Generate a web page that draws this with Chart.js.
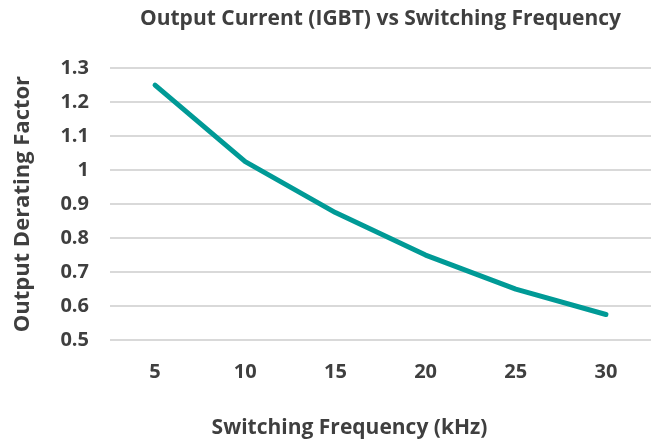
<!DOCTYPE html>
<html>
<head>
<meta charset="utf-8">
<script src="https://cdn.jsdelivr.net/npm/chart.js@4"></script>
<style>
  html, body { margin: 0; padding: 0; background: #fff; }
  #wrap { width: 660px; height: 444px; }
</style>
</head>
<body>
<div id="wrap"><canvas id="myChart" width="660" height="444"></canvas></div>
<script>
// switching frequency (kHz) and derating factor
const frequencies = ["5", "10", "15", "20", "25", "30"];
const deratingFactor = [1.25, 1.025, 0.875, 0.75, 0.65, 0.575];

const textColor = "#3f3f3f";
const fontFamily = "'Open Sans', 'Liberation Sans', sans-serif";

const ctx = document.getElementById("myChart").getContext("2d");

// x axis title, sits a bit left of the plot centre
const xAxisTitle = {
  id: "xAxisTitle",
  afterDraw(chart) {
    const { ctx, chartArea, height } = chart;
    ctx.save();
    ctx.font = "bold 21px " + fontFamily;
    ctx.fillStyle = textColor;
    ctx.textAlign = "center";
    ctx.textBaseline = "middle";
    ctx.fillText("Switching Frequency (kHz)", chartArea.left + chartArea.width / 2 - 31, height - 16);
    ctx.restore();
  },
};

new Chart(ctx, {
  type: "line",
  data: {
    labels: frequencies,
    datasets: [{
      label: "Derating",
      data: deratingFactor,
      borderColor: "#009a96",
      borderWidth: 5,
      borderCapStyle: "round",
      borderJoinStyle: "round",
      pointRadius: 0,
      tension: 0,
      fill: false,
    }],
  },
  options: {
    responsive: false,
    animation: false,
    layout: {
      padding: { left: 10, right: 9, top: 6, bottom: 40 },
    },
    plugins: {
      legend: { display: false },
      tooltip: { enabled: false },
      title: {
        display: true,
        fullSize: false,
        text: "Output Current (IGBT) vs Switching Frequency",
        color: textColor,
        font: { family: fontFamily, size: 21, weight: "bold" },
        padding: { top: 0, bottom: 37 },
      },
    },
    scales: {
      x: {
        offset: true,
        grid: { display: false, drawTicks: false },
        border: { display: false },
        ticks: {
          color: textColor,
          font: { family: fontFamily, size: 20, weight: "bold" },
          padding: 20,
        },
      },
      y: {
        min: 0.5,
        max: 1.3,
        grid: { color: "#d9d9d9", lineWidth: 2, drawTicks: false },
        border: { display: false },
        ticks: {
          stepSize: 0.1,
          color: textColor,
          font: { family: fontFamily, size: 20, weight: "bold" },
          padding: 21,
          callback: (v) => Math.round(v * 10) / 10,
        },
        title: {
          display: true,
          text: "Output Derating Factor",
          color: textColor,
          font: { family: fontFamily, size: 22, weight: "bold" },
          padding: { top: 0, bottom: 3 },
        },
      },
    },
  },
  plugins: [xAxisTitle],
});
</script>
</body>
</html>
